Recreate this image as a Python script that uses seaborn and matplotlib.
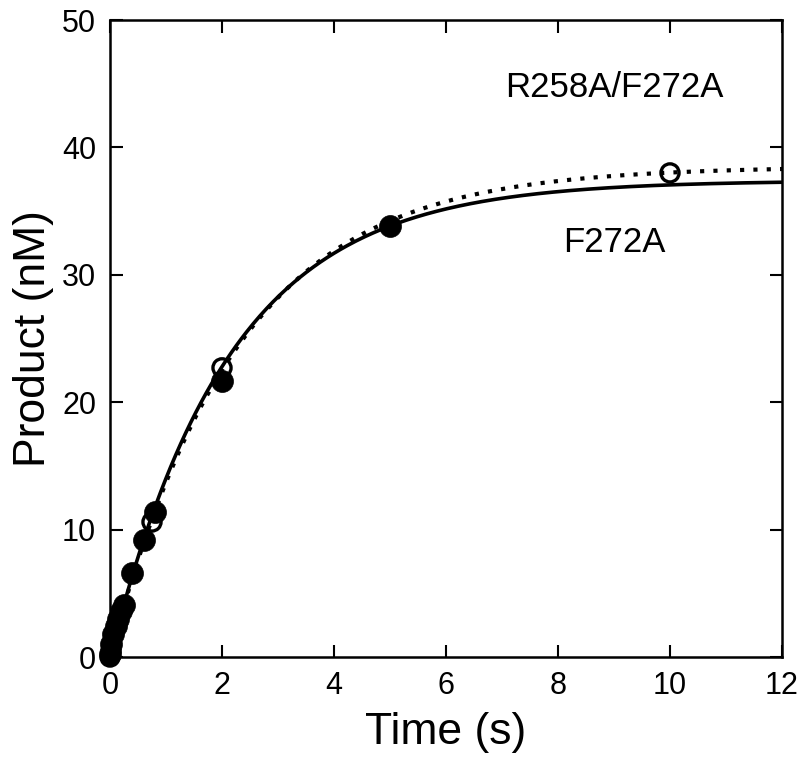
import matplotlib

matplotlib.use("Agg")

import matplotlib.pyplot as plt
import numpy as np
import pandas as pd
import seaborn as sns

# F272A (filled circles)
f272a_time = [0.0, 0.02, 0.05, 0.1, 0.15, 0.2, 0.25, 0.4, 0.6, 0.8, 2.0, 5.0]
f272a_product = [0.2, 1.0, 1.8, 2.4, 3.0, 3.6, 4.1, 6.6, 9.2, 11.4, 21.7, 33.8]

# R258A/F272A (open circles)
double_time = [0.0, 0.02, 0.75, 2.0, 10.0]
double_product = [0.0, 0.5, 10.6, 22.7, 38.0]

# single-exponential fit parameters: amplitude (nM), rate (1/s)
f272a_fit = (37.4, 0.47)
double_fit = (38.5, 0.44)

x_ticks = [0, 2, 4, 6, 8, 10, 12]
y_ticks = [0, 10, 20, 30, 40, 50]

sns.set_style("ticks")
plt.rcParams["font.family"] = ["Liberation Sans", "DejaVu Sans"]
plt.rcParams.update({
    "text.color": "black",
    "axes.labelcolor": "black",
    "axes.edgecolor": "black",
    "xtick.color": "black",
    "ytick.color": "black",
})

fig = plt.figure(figsize=(8, 7.58), dpi=100)
ax = fig.add_axes([0.1375, 0.1332, 0.84, 0.8404])

t_fit = np.linspace(0, 12, 400)
fits = pd.DataFrame({
    "t": t_fit,
    "f272a": f272a_fit[0] * (1 - np.exp(-f272a_fit[1] * t_fit)),
    "double": double_fit[0] * (1 - np.exp(-double_fit[1] * t_fit)),
})

sns.lineplot(data=fits, x="t", y="double", ax=ax, color="black", lw=3,
             linestyle=(0, (1, 2.2)), dash_capstyle="butt")
sns.lineplot(data=fits, x="t", y="f272a", ax=ax, color="black", lw=2.6)

sns.scatterplot(x=f272a_time, y=f272a_product, ax=ax, s=250, color="black",
                edgecolor="black", linewidth=0.5, zorder=3, clip_on=False)
sns.scatterplot(x=double_time, y=double_product, ax=ax, s=170, facecolor="none",
                edgecolor="black", linewidth=2.4, zorder=4, clip_on=False)

ax.text(9.0, 44.7, "R258A/F272A", fontsize=25, ha="center", va="center")
ax.text(9.0, 32.5, "F272A", fontsize=25, ha="center", va="center")

ax.set_xlim(0, 12)
ax.set_ylim(0, 50)
ax.set_xticks(x_ticks)
ax.set_yticks(y_ticks)
ax.tick_params(direction="in", length=9, width=1.5, labelsize=22,
               top=True, right=True, pad=10)
for spine in ax.spines.values():
    spine.set_linewidth(1.8)
    spine.set_visible(True)

ax.set_xlabel("Time (s)", fontsize=32, labelpad=8)
ax.set_ylabel("Product (nM)", fontsize=32, labelpad=6)

fig.savefig("out.png", dpi=100)
plt.close(fig)
